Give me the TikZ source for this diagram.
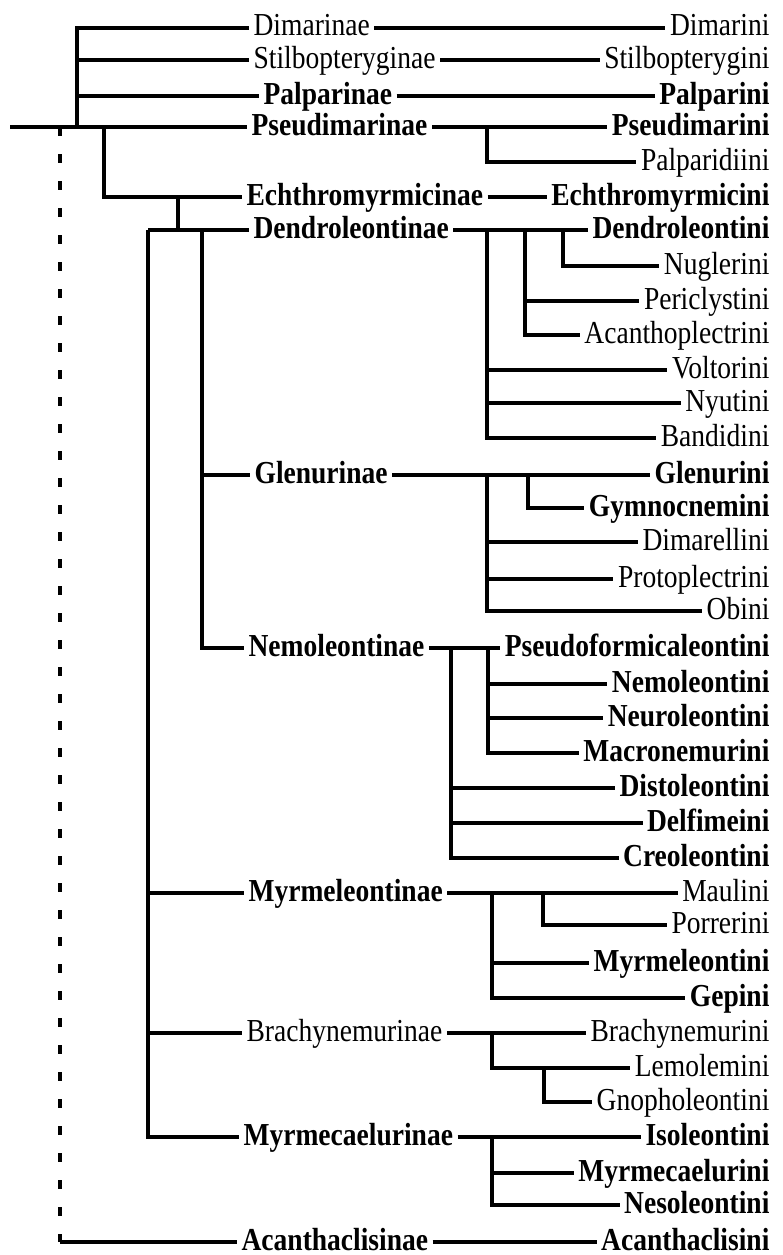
\documentclass[tikz,border=0pt]{standalone}
\usepackage{fontspec}
\setmainfont{Liberation Serif}[FakeStretch=0.86]
\usepackage{tikz}

\begin{document}
\begin{tikzpicture}[x=1pt, y=-1pt, line width=3.2pt]
	\tikzstyle{every node} = [inner sep=3pt, font=\fontsize{32}{36}\selectfont, text height=23pt, text depth=7pt]
	\tikzstyle{sub} = [anchor=west]
	\tikzstyle{tri} = [anchor=east]
	\tikzstyle{boldlabel} = [font=\fontsize{32}{36}\selectfont\bfseries]
	\useasboundingbox (0,0) rectangle (783,1255);
	% subfamilies
	\node[sub] (dimarinae) at (249, 28) {Dimarinae};
	\node[sub] (stilbinae) at (249, 60) {Stilbopteryginae};
	\node[sub, boldlabel] (palpinae) at (259, 96) {Palparinae};
	\node[sub, boldlabel] (pseudinae) at (247, 127) {Pseudimarinae};
	\node[sub, boldlabel] (echthinae) at (242, 197) {Echthromyrmicinae};
	\node[sub, boldlabel] (dendrinae) at (249, 230) {Dendroleontinae};
	\node[sub, boldlabel] (glennae) at (250, 475) {Glenurinae};
	\node[sub, boldlabel] (nemonae) at (244, 648) {Nemoleontinae};
	\node[sub, boldlabel] (myrmnae) at (244, 893) {Myrmeleontinae};
	\node[sub] (brachnae) at (242, 1033) {Brachynemurinae};
	\node[sub, boldlabel] (myrmecnae) at (239, 1137) {Myrmecaelurinae};
	\node[sub, boldlabel] (acanthnae) at (237, 1242) {Acanthaclisinae};
	% tribes
	\node[tri] (dimarini) at (774, 28) {Dimarini};
	\node[tri] (stilbini) at (774, 60) {Stilbopterygini};
	\node[tri, boldlabel] (palpini) at (774, 96) {Palparini};
	\node[tri, boldlabel] (pseudini) at (774, 127) {Pseudimarini};
	\node[tri] (palpidini) at (774, 162) {Palparidiini};
	\node[tri, boldlabel] (echthini) at (774, 197) {Echthromyrmicini};
	\node[tri, boldlabel] (dendrini) at (774, 230) {Dendroleontini};
	\node[tri] (nuglini) at (774, 266) {Nuglerini};
	\node[tri] (pericini) at (774, 301) {Periclystini};
	\node[tri] (acplini) at (774, 335) {Acanthoplectrini};
	\node[tri] (voltini) at (774, 370) {Voltorini};
	\node[tri] (nyutini) at (774, 403) {Nyutini};
	\node[tri] (bandini) at (774, 438) {Bandidini};
	\node[tri, boldlabel] (glenini) at (774, 475) {Glenurini};
	\node[tri, boldlabel] (gymnini) at (774, 508) {Gymnocnemini};
	\node[tri] (dimelini) at (774, 542) {Dimarellini};
	\node[tri] (protini) at (774, 579) {Protoplectrini};
	\node[tri] (obini) at (774, 611) {Obini};
	\node[tri, boldlabel] (psformini) at (774, 648) {Pseudoformicaleontini};
	\node[tri, boldlabel] (nemoini) at (774, 684) {Nemoleontini};
	\node[tri, boldlabel] (neurini) at (774, 718) {Neuroleontini};
	\node[tri, boldlabel] (macrini) at (774, 753) {Macronemurini};
	\node[tri, boldlabel] (distini) at (774, 788) {Distoleontini};
	\node[tri, boldlabel] (delfini) at (774, 823) {Delfimeini};
	\node[tri, boldlabel] (creoini) at (774, 858) {Creoleontini};
	\node[tri] (maulini) at (774, 893) {Maulini};
	\node[tri] (porrini) at (774, 925) {Porrerini};
	\node[tri, boldlabel] (myrmini) at (774, 963) {Myrmeleontini};
	\node[tri, boldlabel] (gepini) at (774, 998) {Gepini};
	\node[tri] (brachini) at (774, 1033) {Brachynemurini};
	\node[tri] (lemoini) at (774, 1068) {Lemolemini};
	\node[tri] (gnophini) at (774, 1102) {Gnopholeontini};
	\node[tri, boldlabel] (isoini) at (774, 1137) {Isoleontini};
	\node[tri, boldlabel] (myrmecini) at (774, 1173) {Myrmecaelurini};
	\node[tri, boldlabel] (nesoini) at (774, 1205) {Nesoleontini};
	\node[tri, boldlabel] (acanthini) at (774, 1242) {Acanthaclisini};
	% branch points on the left
	\coordinate (root) at (10, 127);
	\coordinate (n0) at (60, 127);
	\coordinate (n0b) at (60, 1242);
	\coordinate (n1) at (77, 127);
	\coordinate (n2) at (104, 127);
	\coordinate (n3) at (178, 197);
	\coordinate (n4) at (178, 230);
	\coordinate (n5) at (148, 230);
	\coordinate (n6) at (202, 230);
	% branch points on the right
	\coordinate (p1) at (487, 127);
	\coordinate (d1) at (487, 230);
	\coordinate (d2) at (525, 230);
	\coordinate (d3) at (563, 230);
	\coordinate (g1) at (487, 475);
	\coordinate (g2) at (528, 475);
	\coordinate (m1) at (451, 648);
	\coordinate (m2) at (488, 648);
	\coordinate (y1) at (492, 893);
	\coordinate (y2) at (543, 893);
	\coordinate (b1) at (492, 1033);
	\coordinate (b2) at (544, 1068);
	\coordinate (c1) at (492, 1137);
	% left tree
	\draw (root) -- (pseudinae);
	\draw (n1) |- (dimarinae);
	\draw (n1) |- (stilbinae);
	\draw (n1) |- (palpinae);
	\draw (n2) |- (echthinae);
	\draw (n3) -- (n4);
	\draw (n5) -- (dendrinae);
	\draw (n6) |- (glennae);
	\draw (n6) |- (nemonae);
	\draw (n5) |- (myrmnae);
	\draw (n5) |- (brachnae);
	\draw (n5) |- (myrmecnae);
	\draw [dash pattern=on 9pt off 18pt] (n0) -- (n0b);
	\draw (n0b) -- (acanthnae);
	% right tree
	\draw (dimarinae) -- (dimarini);
	\draw (stilbinae) -- (stilbini);
	\draw (palpinae) -- (palpini);
	\draw (pseudinae) -- (pseudini);
	\draw (p1) |- (palpidini);
	\draw (echthinae) -- (echthini);
	\draw (dendrinae) -- (dendrini);
	\draw (d3) |- (nuglini);
	\draw (d2) |- (pericini);
	\draw (d2) |- (acplini);
	\draw (d1) |- (voltini);
	\draw (d1) |- (nyutini);
	\draw (d1) |- (bandini);
	\draw (glennae) -- (glenini);
	\draw (g2) |- (gymnini);
	\draw (g1) |- (dimelini);
	\draw (g1) |- (protini);
	\draw (g1) |- (obini);
	\draw (nemonae) -- (psformini);
	\draw (m2) |- (nemoini);
	\draw (m2) |- (neurini);
	\draw (m2) |- (macrini);
	\draw (m1) |- (distini);
	\draw (m1) |- (delfini);
	\draw (m1) |- (creoini);
	\draw (myrmnae) -- (maulini);
	\draw (y2) |- (porrini);
	\draw (y1) |- (myrmini);
	\draw (y1) |- (gepini);
	\draw (brachnae) -- (brachini);
	\draw (b1) |- (lemoini);
	\draw (b2) |- (gnophini);
	\draw (myrmecnae) -- (isoini);
	\draw (c1) |- (myrmecini);
	\draw (c1) |- (nesoini);
	\draw (acanthnae) -- (acanthini);
\end{tikzpicture}
\end{document}
